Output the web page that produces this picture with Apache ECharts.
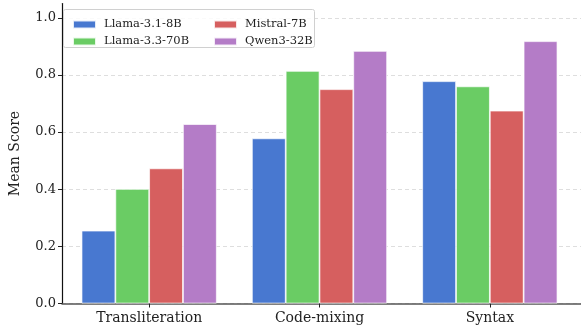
<!DOCTYPE html>
<html>
<head>
<meta charset="utf-8">
<script src="https://cdn.jsdelivr.net/npm/echarts@6/dist/echarts.min.js"></script>
<style>
  html, body { margin: 0; padding: 0; background: #fff; }
  #chart { width: 581px; height: 329px; }
</style>
</head>
<body>
<div id="chart"></div>
<script>
// Mean score per task category for each model
const categories = ['Transliteration', 'Code-mixing', 'Syntax'];
const models = ['Llama-3.1-8B', 'Llama-3.3-70B', 'Mistral-7B', 'Qwen3-32B'];
const llama8b  = [0.255, 0.578, 0.778];
const llama70b = [0.401, 0.814, 0.760];
const mistral7b = [0.473, 0.750, 0.675];
const qwen32b  = [0.628, 0.884, 0.918];
const yTicks = [0, 0.2, 0.4, 0.6, 0.8, 1.0];

const colors = ['#4878d0', '#6acc64', '#d65f5f', '#b47cc7'];
const seriesValues = [llama8b, llama70b, mistral7b, qwen32b];
const FONT = 'DejaVu Serif';

const chart = echarts.init(document.getElementById('chart'), null, { renderer: 'canvas' });

const yMax = 1.05;

const legendText = { fontFamily: FONT, fontSize: 11.5, color: '#222', lineHeight: 13, padding: [0, 0, 0, 3] };

chart.setOption({
  animation: false,
  color: colors,
  textStyle: { fontFamily: FONT },
  grid: [
    { left: 57, right: 0, top: 3.5, height: 300 },
    { left: 64, width: 511, top: 3.5, height: 300 }
  ],
  xAxis: [
    {
      gridIndex: 0, type: 'value', min: 0, max: 1,
      axisLine: { show: true, lineStyle: { color: '#555', width: 1.5 } },
      axisTick: { show: false }, axisLabel: { show: false }, splitLine: { show: false }
    },
    {
      gridIndex: 1, type: 'category', data: categories,
      axisLine: { show: false },
      axisTick: { show: true, alignWithLabel: true, length: 4, lineStyle: { color: '#222', width: 1 } },
      axisLabel: { color: '#222', fontSize: 14, fontFamily: FONT, margin: 8 },
      splitLine: { show: false }
    }
  ],
  yAxis: [
    {
      gridIndex: 0, type: 'value', min: 0, max: yMax,
      name: 'Mean Score', nameLocation: 'middle', nameGap: 40,
      nameTextStyle: { color: '#222', fontSize: 14, fontFamily: FONT },
      axisLine: { show: true, lineStyle: { color: '#111', width: 1.2 } },
      axisTick: { show: true, length: 4, customValues: yTicks, lineStyle: { color: '#222' } },
      axisLabel: {
        color: '#222', fontSize: 13, fontFamily: FONT, margin: 6,
        customValues: yTicks,
        formatter: v => v.toFixed(1)
      },
      splitLine: {
        show: true,
        lineStyle: { color: '#dedede', type: [4, 3], width: 1 }
      }
    },
    {
      gridIndex: 1, type: 'value', min: 0, max: yMax, show: false,
      splitLine: { show: false }
    }
  ],
  legend: [
    {
      data: [models[0], models[1]], z: 10,
      orient: 'vertical', left: 67, top: 13,
      icon: 'rect', itemWidth: 23, itemHeight: 8, itemGap: 4,
      textStyle: legendText
    },
    {
      data: [models[2], models[3]], z: 10,
      orient: 'vertical', left: 208, top: 13,
      icon: 'rect', itemWidth: 23, itemHeight: 8, itemGap: 4,
      textStyle: legendText
    }
  ],
  graphic: [
    {
      type: 'rect', left: 63, top: 9, z: 3,
      shape: { width: 251, height: 38, r: 2 },
      style: { fill: 'rgba(255,255,255,0.85)', stroke: '#d0d0d0', lineWidth: 1 }
    }
  ],
  series: models.map((name, i) => ({
    name,
    type: 'bar',
    xAxisIndex: 1, yAxisIndex: 1,
    data: seriesValues[i],
    barWidth: 33.8,
    barGap: '0%',
    itemStyle: { color: colors[i], borderColor: 'rgba(255,255,255,0.85)', borderWidth: 0.8 }
  }))
});
</script>
</body>
</html>
